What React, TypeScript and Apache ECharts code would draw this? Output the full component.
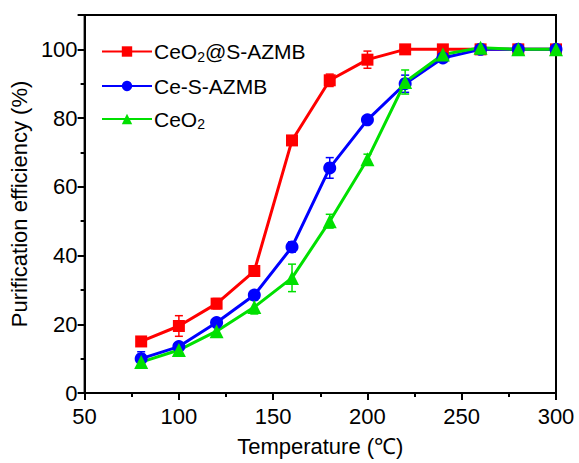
import React, { useEffect, useRef } from "react";
import * as echarts from "echarts";

// Temperatures (°C)
const temperatures = [80, 100, 120, 140, 160, 180, 200, 220, 240, 260, 280, 300];

// Purification efficiency (%) per catalyst
const ceo2AtSAzmb = [15, 19.5, 26, 35.5, 73.5, 91, 97, 100, 100, 100, 100, 100];
const ceSAzmb = [10, 13.5, 20.5, 28.5, 42.5, 65.5, 79.5, 90, 97.5, 100, 100, 100];
const ceo2 = [9, 12.5, 18, 25, 33.5, 50, 68, 90.5, 98.5, 100.5, 100, 100];

// Error bar half-widths (%)
const ceo2AtSAzmbErr = [1, 3, 1.5, 1, 1, 1.8, 2.5, 0.5, 0.5, 0.5, 0.5, 0.5];
const ceSAzmbErr = [2, 1, 1, 1, 1.5, 3, 1, 2.5, 1, 0.5, 0.5, 0.5];
const ceo2Err = [1.5, 1, 1.5, 2, 4, 2, 1.5, 3.5, 1, 1, 0.5, 0.5];

const xTicks = { min: 50, max: 300, interval: 50 };
const yTicks = { min: 0, max: 110, interval: 20 };

const FONT = "Liberation Sans, Arial, sans-serif";

function errorSeries(name: string, values: number[], errs: number[], color: string) {
  return {
    type: "custom",
    name: name + "-err",
    silent: true,
    z: 1,
    data: temperatures.map((t, i) => [t, values[i] - errs[i], values[i] + errs[i]]),
    renderItem: (_params: any, api: any) => {
      const x = api.value(0);
      const lo = api.coord([x, api.value(1)]);
      const hi = api.coord([x, api.value(2)]);
      const cap = 4;
      const style = { stroke: color, lineWidth: 1.5 };
      return {
        type: "group",
        children: [
          { type: "line", shape: { x1: lo[0], y1: lo[1], x2: hi[0], y2: hi[1] }, style },
          { type: "line", shape: { x1: hi[0] - cap, y1: hi[1], x2: hi[0] + cap, y2: hi[1] }, style },
          { type: "line", shape: { x1: lo[0] - cap, y1: lo[1], x2: lo[0] + cap, y2: lo[1] }, style },
        ],
      };
    },
  };
}

function lineSeries(name: string, values: number[], color: string, symbol: string, size: number) {
  return {
    type: "line",
    name,
    z: 3,
    data: temperatures.map((t, i) => [t, values[i]]),
    symbol,
    symbolSize: size,
    showSymbol: true,
    itemStyle: { color },
    lineStyle: { color, width: 3 },
  };
}

export default function App() {
  const ref = useRef<HTMLDivElement>(null);

  useEffect(() => {
    if (!ref.current) return;
    const chart = echarts.init(ref.current, undefined, { renderer: "svg" });
    const labelStyle = { fontFamily: FONT, fontSize: 22, color: "#000" };
    chart.setOption({
      animation: false,
      backgroundColor: "#fff",
      grid: {
        left: 80,
        right: 23,
        top: 15,
        bottom: 70,
        show: true,
        borderColor: "#000",
        borderWidth: 2,
        backgroundColor: "transparent",
      },
      legend: {
        left: 96,
        top: 36,
        orient: "vertical",
        itemWidth: 50,
        itemHeight: 13,
        itemGap: 12,
        data: ["CeO2@S-AZMB", "Ce-S-AZMB", "CeO2"],
        formatter: (n: string) => n.replace(/CeO2/g, "CeO{sub|2}"),
        textStyle: {
          fontFamily: FONT,
          fontSize: 21,
          color: "#000",
          padding: [0, 0, 0, -3],
          rich: {
            sub: { fontFamily: FONT, fontSize: 14, color: "#000", verticalAlign: "bottom", padding: [10, 0, 0, 0] },
          },
        },
      },
      xAxis: {
        type: "value",
        min: xTicks.min,
        max: xTicks.max,
        interval: xTicks.interval,
        name: "Temperature (℃)",
        nameLocation: "middle",
        nameGap: 42,
        nameTextStyle: { ...labelStyle },
        axisLine: { show: true, onZero: false, lineStyle: { color: "#000", width: 2 } },
        axisTick: { show: true, inside: false, length: 7, lineStyle: { color: "#000", width: 2 } },
        minorTick: { show: true, splitNumber: 2, length: 4, lineStyle: { color: "#000", width: 2 } },
        axisLabel: { ...labelStyle, margin: 12 },
        splitLine: { show: false },
      },
      yAxis: {
        type: "value",
        min: yTicks.min,
        max: yTicks.max,
        interval: yTicks.interval,
        name: "Purification efficiency (%)",
        nameLocation: "middle",
        nameGap: 46,
        nameTextStyle: { ...labelStyle },
        axisLine: { show: true, lineStyle: { color: "#000", width: 2 } },
        axisTick: { show: true, inside: false, length: 7, lineStyle: { color: "#000", width: 2 } },
        minorTick: { show: true, splitNumber: 2, length: 4, lineStyle: { color: "#000", width: 2 } },
        axisLabel: { ...labelStyle, margin: 7, showMaxLabel: false },
        splitLine: { show: false },
      },
      series: [
        errorSeries("CeO2@S-AZMB", ceo2AtSAzmb, ceo2AtSAzmbErr, "#ff0000"),
        errorSeries("Ce-S-AZMB", ceSAzmb, ceSAzmbErr, "#0000ff"),
        errorSeries("CeO2", ceo2, ceo2Err, "#00e000"),
        lineSeries("CeO2@S-AZMB", ceo2AtSAzmb, "#ff0000", "rect", 12),
        lineSeries("Ce-S-AZMB", ceSAzmb, "#0000ff", "circle", 13),
        lineSeries("CeO2", ceo2, "#00e000", "triangle", 14),
      ],
    });
    return () => chart.dispose();
  }, []);

  return <div ref={ref} style={{ width: 579, height: 463, position: "absolute", left: 0, top: 0 }} />;
}
